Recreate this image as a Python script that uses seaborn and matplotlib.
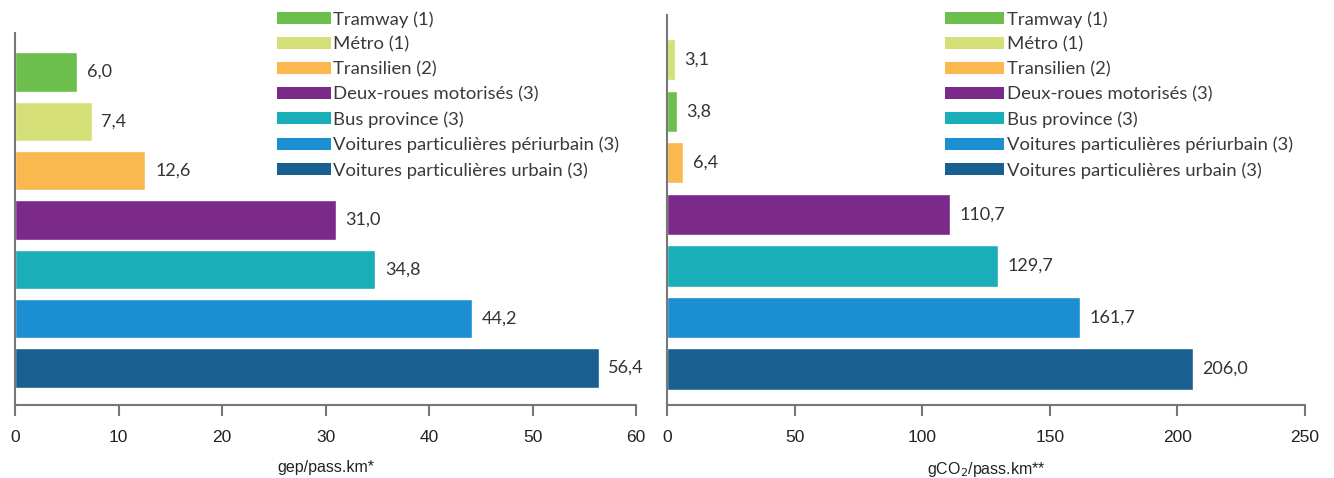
import matplotlib
matplotlib.use("Agg")
import matplotlib.pyplot as plt
import seaborn as sns
import pandas as pd
from matplotlib.patches import Patch

sns.set_theme(style="white")
plt.rcParams['font.family'] = ['Lato', 'DejaVu Sans']

# ---- data ----
legend_order = ["Tramway (1)", "Métro (1)", "Transilien (2)", "Deux-roues motorisés (3)",
                "Bus province (3)", "Voitures particulières périurbain (3)",
                "Voitures particulières urbain (3)"]
colors = ["#6cbf4c", "#d5df78", "#fbb84e", "#7b2a8a", "#1aaeb8", "#1b8fd2", "#195f8f"]

left_categories = ["Tramway (1)", "Métro (1)", "Transilien (2)", "Deux-roues motorisés (3)",
                   "Bus province (3)", "Voitures particulières périurbain (3)",
                   "Voitures particulières urbain (3)"]
left_values = [6.0, 7.4, 12.6, 31.0, 34.8, 44.2, 56.4]
left_ticks = [0, 10, 20, 30, 40, 50, 60]
left_xlabel = "gep/pass.km*"

right_categories = ["Métro (1)", "Tramway (1)", "Transilien (2)", "Deux-roues motorisés (3)",
                    "Bus province (3)", "Voitures particulières périurbain (3)",
                    "Voitures particulières urbain (3)"]
right_values = [3.1, 3.8, 6.4, 110.7, 129.7, 161.7, 206.0]
right_ticks = [0, 50, 100, 150, 200, 250]
right_xlabel = "gCO$_2$/pass.km**"

palette = dict(zip(legend_order, colors))

W, H = 1334, 478
fig = plt.figure(figsize=(W / 100, H / 100), dpi=100)


def make_axes(x0, x1, ytop, ybot):
    return fig.add_axes([x0 / W, (H - ybot) / H, (x1 - x0) / W, (ybot - ytop) / H])


def draw(ax, cats, vals, ticks, xlabel, ylim, legend_x, hlen):
    df = pd.DataFrame({"cat": cats, "val": vals})
    sns.barplot(data=df, x="val", y="cat", hue="cat", palette=palette, order=cats,
                hue_order=cats, orient="h", width=0.8, dodge=False, legend=False,
                ax=ax, saturation=1)
    for cont, v in zip(ax.containers, vals):
        ax.bar_label(cont, labels=[f"{v:.1f}".replace(".", ",")], padding=7,
                     fontsize=13, color="#333333")
    ax.set_xlim(ticks[0], ticks[-1])
    ax.set_xticks(ticks)
    ax.set_ylim(*ylim)
    ax.set_yticks([])
    ax.set_ylabel("")
    ax.set_xlabel(xlabel, fontsize=11.5, family=['Liberation Sans', 'DejaVu Sans'],
                  labelpad=11, color="#222222")
    for lbl in ax.get_xticklabels():
        lbl.set_family(['Liberation Sans', 'DejaVu Sans'])
    ax.tick_params(axis="x", bottom=True, length=8, width=1.5, color="#777777",
                   labelsize=12.5, pad=10, labelcolor="#222222")
    for s in ["top", "right"]:
        ax.spines[s].set_visible(False)
    for s in ["left", "bottom"]:
        ax.spines[s].set_color("#777777")
        ax.spines[s].set_linewidth(1.5)
    handles = [Patch(facecolor=palette[c], edgecolor="none") for c in legend_order]
    fig.legend(handles, legend_order, loc="upper left",
               bbox_to_anchor=(legend_x / W, 1 - 11 / H), frameon=False,
               fontsize=13.3, handlelength=hlen, handleheight=0.62, handletextpad=0.15,
               labelspacing=0.48, borderaxespad=0, borderpad=0, labelcolor="#3a3a3a")


axL = make_axes(15, 636, 33, 405)
draw(axL, left_categories, left_values, left_ticks, left_xlabel, (6.75, -0.79), 277, 2.9)

axR = make_axes(667, 1305, 15, 405)
draw(axR, right_categories, right_values, right_ticks, right_xlabel, (6.70, -0.87), 945, 3.2)

fig.savefig("out.png", dpi=100, facecolor="white")
